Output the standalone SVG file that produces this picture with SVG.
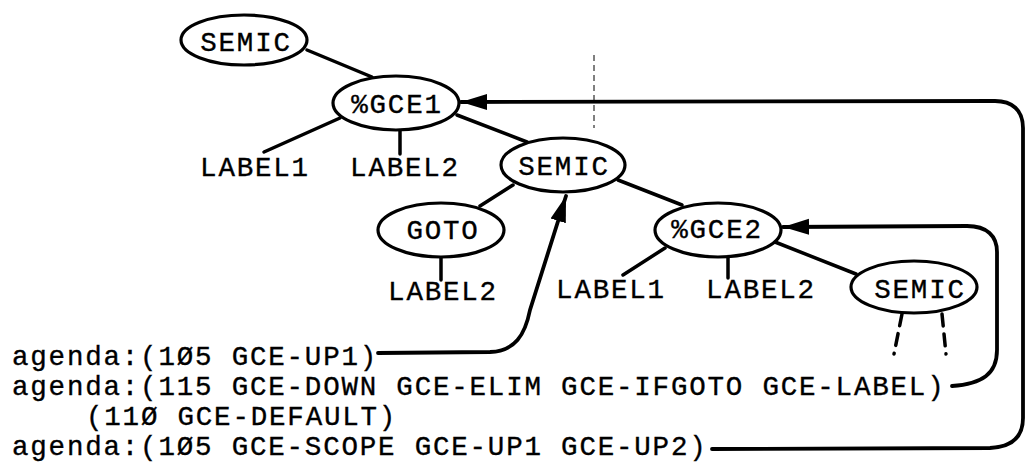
<svg xmlns="http://www.w3.org/2000/svg" width="1030" height="462" viewBox="0 0 1030 462">
<style>
.n{fill:#fff;stroke:#000;stroke-width:3.2}
.t{font-family:"Liberation Mono","DejaVu Sans Mono",monospace;font-size:27.5px;letter-spacing:1.8px;fill:#000;stroke:#000;stroke-width:0.35}
.c{text-anchor:middle}
.e{fill:none;stroke:#000;stroke-width:3.5;stroke-linecap:round}
.a{fill:none;stroke:#000;stroke-width:3.8;stroke-linecap:round;stroke-linejoin:round}
</style>
<defs>
<marker id="ah" markerUnits="userSpaceOnUse" markerWidth="28" markerHeight="18" refX="26" refY="9" orient="auto">
<path d="M0,1 L26,9 L0,17 Z" fill="#000"/>
</marker>
</defs>
<g id="connectors">
<line class="e" x1="307" y1="50" x2="372" y2="77"/>
<line class="e" x1="340" y1="118" x2="264" y2="152"/>
<line class="e" x1="400" y1="130" x2="400" y2="154"/>
<line class="e" x1="457" y1="115" x2="527" y2="142"/>
<line class="e" x1="513" y1="185" x2="480" y2="206"/>
<line class="e" x1="618" y1="180" x2="682" y2="205"/>
<line class="e" x1="441" y1="257" x2="441" y2="280"/>
<line class="e" x1="665" y1="248" x2="623" y2="275"/>
<line class="e" x1="728" y1="257" x2="728" y2="278"/>
<line class="e" x1="775" y1="242" x2="856" y2="274"/>
<line class="e" x1="902" y1="314" x2="894" y2="354" stroke-dasharray="12 8"/>
<line class="e" x1="942" y1="314" x2="946" y2="354" stroke-dasharray="12 8"/>
<path class="a" d="M378,353 L490,352 C515,351 525,335 530,310 L566,196" marker-end="url(#ah)"/>
<path class="a" d="M952,386 C982,384 997,374 997,350 L997,252 C997,236 987,226 967,226 L783,227" marker-end="url(#ah)"/>
<path class="a" d="M712,449 L990,448 C1012,447 1023,437 1023,418 L1023,128 C1023,110 1012,101 995,101 L461,102" marker-end="url(#ah)"/>
<line x1="594" y1="55" x2="594" y2="128" stroke="#000" stroke-width="1" stroke-dasharray="6 4"/>
</g>
<g id="semic-top"><ellipse class="n" cx="244" cy="40" rx="63" ry="25"/><text class="t c" x="246" y="51">SEMIC</text></g>
<g id="gce1"><ellipse class="n" cx="396" cy="103" rx="63" ry="27"/><text class="t c" x="397" y="113">%GCE1</text></g>
<g id="label1-a"><text class="t c" x="255" y="176">LABEL1</text></g>
<g id="label2-a"><text class="t c" x="405" y="176">LABEL2</text></g>
<g id="semic-mid"><ellipse class="n" cx="563" cy="165" rx="62" ry="27"/><text class="t c" x="564" y="175">SEMIC</text></g>
<g id="goto"><ellipse class="n" cx="441" cy="230" rx="63" ry="27"/><text class="t c" x="443" y="239">GOTO</text></g>
<g id="label2-b"><text class="t c" x="443" y="300">LABEL2</text></g>
<g id="gce2"><ellipse class="n" cx="718" cy="230" rx="63" ry="27"/><text class="t c" x="717" y="238">%GCE2</text></g>
<g id="label1-c"><text class="t c" x="611" y="298">LABEL1</text></g>
<g id="label2-c"><text class="t c" x="761" y="298">LABEL2</text></g>
<g id="semic-br"><ellipse class="n" cx="914" cy="287" rx="63" ry="26"/><text class="t c" x="920" y="298">SEMIC</text></g>
<g id="agenda">
<text class="t" x="12" y="365">agenda:(1Ø5 GCE-UP1)</text>
<text class="t" x="12" y="395">agenda:(115 GCE-DOWN GCE-ELIM GCE-IFGOTO GCE-LABEL)</text>
<text class="t" x="86" y="425">(11Ø GCE-DEFAULT)</text>
<text class="t" x="12" y="455">agenda:(1Ø5 GCE-SCOPE GCE-UP1 GCE-UP2)</text>
</g>
</svg>
